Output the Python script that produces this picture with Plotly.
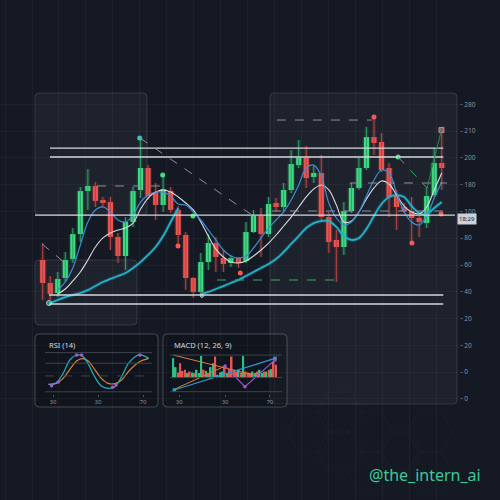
import math
import plotly.graph_objects as go

BG = "#141923"
GREEN = "#3ddc84"
RED = "#ef5350"

# ---------------- main price data (candle index 0..53) ----------------
opens = [103.7, 86.6, 79.1, 90.3, 104.5, 123.1, 155.2, 159.0, 148.5, 147.0, 120.9, 106.7, 132.1, 156.0,
         172.4, 154.5, 144.8, 155.2, 141.1, 122.4, 90.3, 79.9, 102.2, 116.4, 105.2, 101.5, 105.2, 103.0,
         124.6, 136.6, 123.1, 146.3, 143.3, 156.0, 174.6, 179.9, 165.7, 168.7, 135.8, 118.7, 113.4, 140.3,
         157.5, 172.4, 195.5, 191.8, 172.4, 151.5, 143.3, 140.3, 135.1, 131.3, 152.2, 176.1]
closes = [86.6, 78.4, 89.6, 103.7, 123.1, 155.2, 159.0, 147.8, 146.3, 120.9, 106.7, 132.1, 155.2, 172.4,
          151.5, 144.8, 156.7, 141.1, 122.4, 90.3, 79.9, 102.2, 116.4, 106.0, 100.8, 105.2, 101.5, 124.6,
          136.6, 123.1, 145.5, 143.3, 156.0, 175.4, 179.9, 164.9, 168.7, 135.8, 117.2, 113.4, 140.3, 157.5,
          172.4, 195.5, 191.1, 170.9, 150.8, 143.3, 140.3, 135.1, 132.1, 151.5, 176.1, 172.4]
highs = [116.4, 91.8, 94.8, 109.7, 127.6, 158.2, 171.6, 161.9, 150.8, 150.8, 123.9, 135.8, 158.2, 194.8,
         174.6, 161.2, 166.4, 158.2, 144.0, 124.6, 91.0, 109.0, 123.1, 120.9, 111.2, 107.5, 106.0, 132.1,
         141.1, 142.5, 150.8, 150.0, 161.2, 185.8, 193.3, 188.8, 173.9, 182.1, 139.6, 126.1, 147.0, 161.2,
         179.9, 203.0, 209.7, 198.5, 176.1, 156.0, 146.3, 150.8, 136.6, 158.2, 187.3, 200.8]
lows = [73.9, 73.9, 76.1, 87.3, 101.5, 117.2, 141.1, 143.3, 143.3, 111.2, 101.5, 96.3, 128.4, 150.0,
        148.5, 133.6, 139.6, 138.8, 114.2, 81.3, 75.4, 77.6, 96.3, 94.8, 94.8, 98.5, 97.8, 101.5,
        123.9, 106.0, 120.9, 139.6, 139.6, 153.7, 172.4, 157.5, 161.2, 132.1, 109.0, 87.3, 107.5, 138.8,
        156.0, 170.9, 182.1, 169.4, 135.8, 126.1, 138.8, 116.4, 120.9, 127.6, 150.8, 156.0]
idx = list(range(len(opens)))

N = None
ma_fast = [N, N, 81.3, 87.3, 97.8, 114.9, 132.1, 141.1, 143.3, 139.6, 133.6, 132.1, 137.3, 147.0,
           152.2, 154.5, 154.5, 151.5, 145.5, 144.8, 139.6, 133.6, 126.1, 118.7, 111.2, 106.7, 105.2, 106.7,
           112.7, 120.2, 127.6, 133.6, 139.6, 148.5, 159.7, 172.4, 174.6, 166.4, 146.3, 135.1, 129.9, 132.1,
           139.6, 151.5, 163.4, 170.9, 168.7, 153.7, 139.6, 132.1, 129.9, 136.6, 150.0, 161.9]
ma_mid = [N, N, 78.4, 82.1, 88.1, 94.8, 103.7, 113.4, 120.2, 123.9, 126.1, 127.6, 131.3, 141.8,
          150.0, 154.5, 156.0, 154.5, 150.8, 146.3, 141.1, 132.1, 121.6, 111.9, 106.0, 102.2, 101.5, 103.0,
          106.7, 111.2, 116.4, 122.4, 129.1, 135.8, 143.3, 150.8, 156.7, 159.7, 156.0, 144.8, 132.1, 132.8,
          139.6, 149.3, 157.5, 162.7, 160.5, 152.2, 144.0, 139.6, 138.1, 143.3, 156.0, 168.7]
ma_slow = [N, 71.6, 73.9, 76.1, 77.6, 79.1, 81.3, 84.3, 87.3, 89.6, 91.8, 94.0, 97.8, 102.2,
           107.5, 113.4, 121.6, 132.1, 142.5, N, N, 78.4, 79.9, 82.1, 84.3, 86.6, 88.8, 91.8,
           94.8, 97.8, 100.8, 104.5, 109.7, 115.7, 121.6, 127.6, 131.3, 132.8, 132.8, 128.4, 121.6, 118.7,
           120.2, 126.9, 136.6, 145.5, 150.8, 152.2, 150.8, 144.0, 138.8, 138.1, 142.5, 147.0]

# horizontal levels: (value, x start, x end)
level_vals = [187.3, 180.6, 137.3, 77.6, 70.9]
level_x0 = [0.97, 0.97, -1.02, 0.84, 0.84]
level_x1 = [53.2, 53.2, 54.75, 53.2, 53.2]

# dashed drawings: (x0, y0, x1, y1)
gray_dash = [(-0.09, 115.7, 3.63, 98.5), (12.92, 194.8, 27.8, 137.3), (7.21, 159.0, 16.2, 159.0),
             (31.1, 208.2, 43.7, 208.2), (40.8, 161.2, 53.7, 161.2), (30.45, 140.3, 53.7, 140.3)]
green_dash = [(23.15, 88.8, 38.8, 88.8), (47.2, 180.6, 51.04, 157.5)]
green_solid = [(51.04, 157.5, 52.96, 200.8)]

# signal markers
cyan_dot = ([12.88], [194.8])
teal_dots = ([0.84, 21.15], [71.6, 76.9])
green_dots = ([15.94, 19.96, 47.2], [167.2, 136.6, 180.6])
red_dots = ([17.97, 26.24, 44.0, 49.04, 52.9], [114.2, 94.0, 210.5, 116.4, 138.1])
square_mark = ([52.96], [200.8])

price_ticks = [0, 20, 40, 60, 80, 100, 120, 140, 160, 180, 200, 220]
price_labels = ["0", "0", "20", "20", "40", "60", "80", "100", "180", "200", "210", "280"]
last_label = "18:29"
last_value = 137.3

# ---------------- RSI ----------------
rsi_x = [6, 13, 19, 25, 31, 36, 41, 47, 53, 59, 65, 71, 77, 83, 87, 95]
rsi_a = [22, 25.8, 47, 77.3, 88.6, 86.4, 69.7, 39.4, 18.2, 12.9, 16.7, 39.4, 69.7, 84.8, 89.4, 81]
rsi_b = [22, 24.2, 35.6, 56, 74.9, 80.3, 75.8, 56, 35.6, 24.2, 23.5, 31.8, 50.8, 65.9, 73.5, 81]
rsi_mark_x = [8.8, 14.7, 31, 35.5, 63, 66, 87.3]
rsi_mark_y = [18.9, 27.3, 88.6, 88.6, 15.2, 20.5, 88.6]
rsi_levels = [94, 70, 41, 5]
rsi_ticks = [10, 50, 90]
rsi_ticktext = ["30", "30", "70"]

# ---------------- MACD ----------------
macd_hist = [0.88, 0.47, 0.23, 0.65, 0.30, 0.35, 0.20, 0.27, 0.23, 0.20, 0.35, 0.20, 0.98, 0.35, 0.30,
             0.20, 0.47, 0.65, 0.95, 0.12, 0.23, 0.27, 0.47, 0.17, 0.38, 0.95, 0.35, 0.27, 0.35, 0.23,
             0.98, 0.27, 0.23, 0.20, 0.27, 0.20, 0.27, 0.35, 0.20, 0.27, 0.27, 0.35, 0.38, 0.73, 0.58]
macd_up = [1, 1, 0, 0, 0, 0, 1, 0, 1, 0, 1, 1, 1, 0, 1, 0, 1, 1, 0, 1, 1, 1, 0, 1, 0, 0, 0, 0, 1, 0,
           1, 0, 0, 0, 1, 1, 0, 1, 1, 0, 1, 0, 1, 0, 0]
macd_blue = ([0.43, 43.6], [-0.57, 0.87])
macd_orange1 = ([0, 37.2], [1.02, 0.04])
macd_orange2 = ([0.43, 22.2], [-0.54, 0.52])
macd_purple = ([22.2, 30.7, 43.6], [0.52, -0.42, 0.8])
macd_levels = [1.02, 0, -0.645]
macd_ticks = [2.57, 22.2, 41.4]
macd_ticktext = ["30", "30", "70"]

fig = go.Figure()

# ---- candles ----
up = [i for i in idx if closes[i] >= opens[i]]
dn = [i for i in idx if closes[i] < opens[i]]


def wick_xy(ids):
    xs, ys = [], []
    for i in ids:
        xs += [i, i, None]
        ys += [lows[i], highs[i], None]
    return xs, ys


for ids, col, wcol, glow in [(up, GREEN, "#2f9e63", "rgba(61,220,132,0.14)"),
                             (dn, RED, "#b54444", "rgba(239,83,80,0.14)")]:
    wx, wy = wick_xy(ids)
    fig.add_trace(go.Scatter(x=wx, y=wy, mode="lines", line=dict(color=glow, width=4),
                             hoverinfo="skip", showlegend=False))
    fig.add_trace(go.Scatter(x=wx, y=wy, mode="lines", line=dict(color=wcol, width=1),
                             hoverinfo="skip", showlegend=False))
    base = [min(opens[i], closes[i]) for i in ids]
    hgt = [max(abs(closes[i] - opens[i]), 0.9) for i in ids]
    fig.add_trace(go.Bar(x=ids, y=hgt, base=base, width=1.05, marker=dict(color=glow, line_width=0),
                         hoverinfo="skip", showlegend=False))
    fig.add_trace(go.Bar(x=ids, y=hgt, base=base, width=0.68, marker=dict(color=col, line_width=0),
                         hoverinfo="skip", showlegend=False))

# ---- moving averages ----
fig.add_trace(go.Scatter(x=idx, y=ma_slow, mode="lines", line=dict(color="rgba(34,179,204,0.18)", width=4, shape="spline"),
                         connectgaps=False, hoverinfo="skip", showlegend=False))
fig.add_trace(go.Scatter(x=idx, y=ma_slow, mode="lines", line=dict(color="#22b3cc", width=1.8, shape="spline"),
                         connectgaps=False, showlegend=False))
fig.add_trace(go.Scatter(x=idx, y=ma_mid, mode="lines", line=dict(color="#d6dae1", width=1.1, shape="spline"),
                         connectgaps=False, showlegend=False))
fig.add_trace(go.Scatter(x=idx, y=ma_fast, mode="lines", line=dict(color="#3a8ed6", width=1.2, shape="spline"),
                         connectgaps=False, showlegend=False))

# ---- level lines & drawings ----
shapes = []


def hexagon(cx, cy, r):
    pts = [(cx + r * math.cos(math.radians(60 * k)), cy + r * math.sin(math.radians(60 * k))) for k in range(6)]
    s = "M " + " L ".join(f"{x / 500.0} {1 - y / 500.0}" for x, y in pts) + " Z"
    return s


for (hx, hy) in [(340, 412), (370, 432), (400, 452), (430, 432), (340, 452), (310, 432), (370, 472), (430, 472)]:
    shapes.append(dict(type="path", xref="paper", yref="paper", path=hexagon(hx, hy, 23),
                       line=dict(color="rgba(255,255,255,0.025)", width=1), layer="below"))

for v, a, b in zip(level_vals, level_x0, level_x1):
    shapes.append(dict(type="line", xref="x", yref="y", x0=a, x1=b, y0=v, y1=v,
                       line=dict(color="#d3d7de", width=1.3), layer="above"))
for (a, b, c, d) in gray_dash:
    shapes.append(dict(type="line", xref="x", yref="y", x0=a, y0=b, x1=c, y1=d,
                       line=dict(color="#8a909b", width=1, dash="dash"), layer="above"))
for (a, b, c, d) in green_dash:
    shapes.append(dict(type="line", xref="x", yref="y", x0=a, y0=b, x1=c, y1=d,
                       line=dict(color="#2fae64", width=1, dash="dash"), layer="above"))
for (a, b, c, d) in green_solid:
    shapes.append(dict(type="line", xref="x", yref="y", x0=a, y0=b, x1=c, y1=d,
                       line=dict(color="#2a8a52", width=1), layer="above"))

# ---- markers ----
fig.add_trace(go.Scatter(x=cyan_dot[0], y=cyan_dot[1], mode="markers",
                         marker=dict(color="#33c3c9", size=5), showlegend=False))
fig.add_trace(go.Scatter(x=teal_dots[0], y=teal_dots[1], mode="markers",
                         marker=dict(color="#1fbf9a", size=[5, 3]), showlegend=False))
fig.add_trace(go.Scatter(x=green_dots[0], y=green_dots[1], mode="markers",
                         marker=dict(color="#43e07f", size=5), showlegend=False))
fig.add_trace(go.Scatter(x=red_dots[0], y=red_dots[1], mode="markers",
                         marker=dict(color="#f25a55", size=5), showlegend=False))
fig.add_trace(go.Scatter(x=square_mark[0], y=square_mark[1], mode="markers",
                         marker=dict(color="#8c6470", size=5, symbol="square",
                                     line=dict(color="#c08890", width=1)), showlegend=False))

# ---- RSI panel ----
for lv, dsh in zip(rsi_levels, ["solid", "solid", "dash", "solid"]):
    shapes.append(dict(type="line", xref="x2 domain", yref="y2", x0=0, x1=1, y0=lv, y1=lv,
                       line=dict(color="#3d4350", width=1, dash=dsh)))
fig.add_trace(go.Scatter(x=rsi_x, y=rsi_b, xaxis="x2", yaxis="y2", mode="lines",
                         line=dict(color="#e0803a", width=1.2, shape="spline"), showlegend=False))
fig.add_trace(go.Scatter(x=rsi_x, y=rsi_a, xaxis="x2", yaxis="y2", mode="lines",
                         line=dict(color="#22b0b8", width=1.2, shape="spline"), showlegend=False))
fig.add_trace(go.Scatter(x=rsi_mark_x, y=rsi_mark_y, xaxis="x2", yaxis="y2", mode="markers",
                         marker=dict(color="#a35ad6", size=3.5), showlegend=False))

# ---- MACD panel ----
for lv in macd_levels:
    shapes.append(dict(type="line", xref="x3 domain", yref="y3", x0=0, x1=1, y0=lv, y1=lv,
                       line=dict(color="#3d4350", width=1)))
bar_k = list(range(len(macd_hist)))
fig.add_trace(go.Bar(x=bar_k, y=macd_hist, xaxis="x3", yaxis="y3", width=0.75,
                     marker=dict(color=["#2fbf86" if u else "#e8544f" for u in macd_up], line_width=0),
                     showlegend=False))
fig.add_trace(go.Scatter(x=macd_orange1[0], y=macd_orange1[1], xaxis="x3", yaxis="y3", mode="lines",
                         line=dict(color="#d9803c", width=1), showlegend=False))
fig.add_trace(go.Scatter(x=macd_orange2[0], y=macd_orange2[1], xaxis="x3", yaxis="y3", mode="lines",
                         line=dict(color="#d9803c", width=1), showlegend=False))
fig.add_trace(go.Scatter(x=macd_blue[0], y=macd_blue[1], xaxis="x3", yaxis="y3", mode="lines+markers",
                         line=dict(color="#2d9bd0", width=1.2), marker=dict(size=3.5, symbol="square"),
                         showlegend=False))
fig.add_trace(go.Scatter(x=macd_purple[0], y=macd_purple[1], xaxis="x3", yaxis="y3", mode="lines+markers",
                         line=dict(color="#9d55d2", width=1.1), marker=dict(size=3.5), showlegend=False))


# ---- panels (rounded rectangles, pixel layout -> paper) ----
def rrect(x0, y0, x1, y1, r=4):
    X = lambda v: v / 500.0
    Y = lambda v: 1 - v / 500.0
    return (f"M {X(x0+r)} {Y(y0)} L {X(x1-r)} {Y(y0)} Q {X(x1)} {Y(y0)} {X(x1)} {Y(y0+r)} "
            f"L {X(x1)} {Y(y1-r)} Q {X(x1)} {Y(y1)} {X(x1-r)} {Y(y1)} L {X(x0+r)} {Y(y1)} "
            f"Q {X(x0)} {Y(y1)} {X(x0)} {Y(y1-r)} L {X(x0)} {Y(y0+r)} Q {X(x0)} {Y(y0)} {X(x0+r)} {Y(y0)} Z")


for (a, b, c, d) in [(35, 93, 147, 215), (35, 260, 137, 325), (270, 93, 457, 404)]:
    shapes.append(dict(type="path", xref="paper", yref="paper", path=rrect(a, b, c, d),
                       fillcolor="rgba(255,255,255,0.045)", line=dict(color="rgba(255,255,255,0.13)", width=1),
                       layer="below"))
for (a, b, c, d) in [(35, 334, 158, 407), (163, 334, 287, 407)]:
    shapes.append(dict(type="path", xref="paper", yref="paper", path=rrect(a, b, c, d),
                       fillcolor="rgba(8,11,18,0.35)", line=dict(color="rgba(200,205,215,0.28)", width=1),
                       layer="below"))

annotations = [
    dict(xref="paper", yref="paper", x=466.5 / 500, y=1 - 219 / 500, text=last_label, showarrow=False,
         font=dict(size=6, color="#1c2029", family="Noto Sans"), bgcolor="#cdd1d8",
         borderpad=1, xanchor="center", yanchor="middle"),
    dict(xref="paper", yref="paper", x=47 / 500, y=1 - 345 / 500, text="RSI (14)", showarrow=False,
         xanchor="left", yanchor="middle", font=dict(size=7.5, color="#d5d9e0", family="Noto Sans")),
    dict(xref="paper", yref="paper", x=172 / 500, y=1 - 345 / 500, text="MACD (12, 26, 9)", showarrow=False,
         xanchor="left", yanchor="middle", font=dict(size=7.5, color="#d5d9e0", family="Noto Sans")),
    dict(xref="paper", yref="paper", x=483 / 500, y=1 - 475 / 500, text="@the_intern_ai", showarrow=False,
         xanchor="right", yanchor="middle", font=dict(size=16, color="#3fc99a", family="Noto Sans")),
]

fig.update_layout(
    width=500, height=500, margin=dict(l=0, r=0, t=0, b=0),
    paper_bgcolor=BG, plot_bgcolor="rgba(0,0,0,0)", barmode="overlay", showlegend=False,
    shapes=shapes, annotations=annotations,
    xaxis=dict(domain=[0, 459 / 500], range=[-5.67, 55.29], showticklabels=False, showgrid=True,
               gridcolor="rgba(255,255,255,0.035)", tick0=-5.0, dtick=3.58, zeroline=False, fixedrange=True),
    yaxis=dict(domain=[0, 1], range=[-75.4, 297.8], side="right", tickvals=price_ticks, ticktext=price_labels,
               tickfont=dict(size=6.5, color="#8b919c", family="Noto Sans"), ticks="outside", ticklen=3,
               tickcolor="#4a505c", showgrid=True, gridcolor="rgba(255,255,255,0.035)", zeroline=False),
    xaxis2=dict(domain=[45 / 500, 152 / 500], anchor="y2", range=[2.89, 98.0], tickvals=rsi_ticks,
                ticktext=rsi_ticktext, tickfont=dict(size=6, color="#8b919c", family="Noto Sans"),
                showgrid=False, zeroline=False, ticks="outside", ticklen=2, tickcolor="#4a505c"),
    yaxis2=dict(domain=[1 - 394 / 500, 1 - 350 / 500], anchor="x2", range=[0, 100], showticklabels=False,
                showgrid=False, zeroline=False),
    xaxis3=dict(domain=[170 / 500, 282 / 500], anchor="y3", range=[-1.41, 46.6], tickvals=macd_ticks,
                ticktext=macd_ticktext, tickfont=dict(size=6, color="#8b919c", family="Noto Sans"),
                showgrid=False, zeroline=False, ticks="outside", ticklen=2, tickcolor="#4a505c"),
    yaxis3=dict(domain=[1 - 394 / 500, 1 - 350 / 500], anchor="x3", range=[-0.75, 1.25], showticklabels=False,
                showgrid=False, zeroline=False),
)

fig.write_html("out.html")
